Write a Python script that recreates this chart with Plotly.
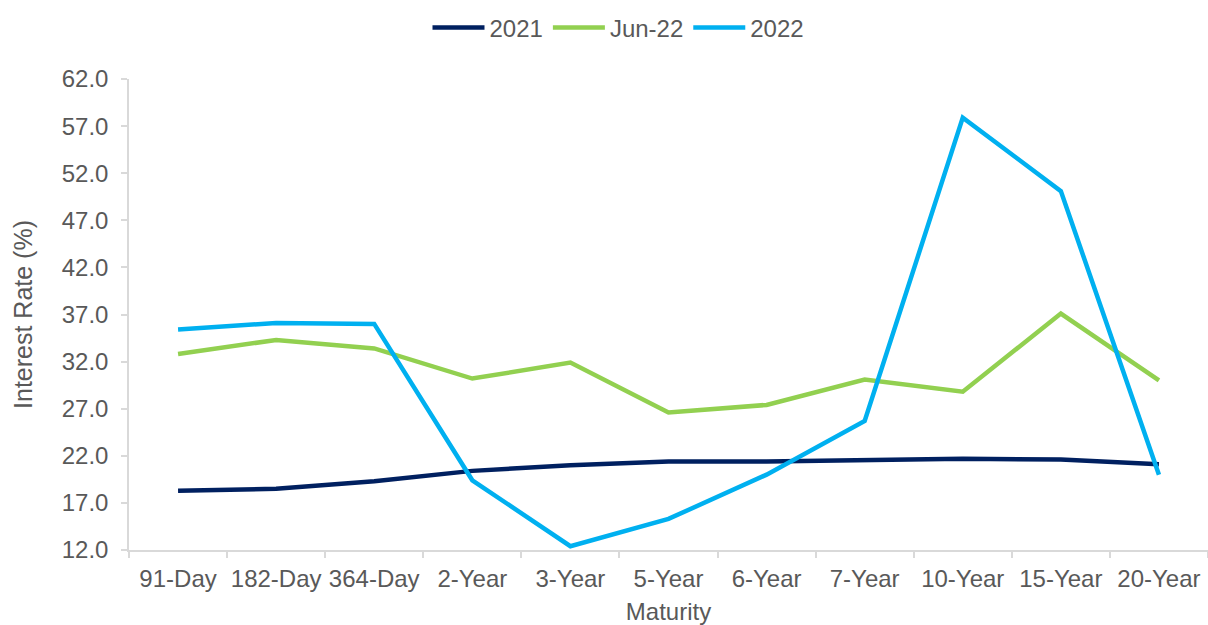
import plotly.graph_objects as go

maturities = ["91-Day", "182-Day", "364-Day", "2-Year", "3-Year", "5-Year",
              "6-Year", "7-Year", "10-Year", "15-Year", "20-Year"]
rates_2021 = [18.3, 18.5, 19.3, 20.4, 21.0, 21.4, 21.4, 21.5, 21.7, 21.6, 21.1]
rates_jun22 = [32.8, 34.3, 33.4, 30.2, 31.9, 26.6, 27.4, 30.1, 28.8, 37.1, 30.0]
rates_2022 = [35.4, 36.1, 36.0, 19.4, 12.4, 15.3, 20.0, 25.7, 57.9, 50.1, 20.0]
y_ticks = [12, 17, 22, 27, 32, 37, 42, 47, 52, 57, 62]

series = [
    ("2021", rates_2021, "#002060"),
    ("Jun-22", rates_jun22, "#92D050"),
    ("2022", rates_2022, "#00B0F0"),
]

fig = go.Figure()
for name, vals, color in series:
    fig.add_trace(go.Scatter(x=maturities, y=vals, name=name, mode="lines",
                             line=dict(color=color, width=4.5)))

font_family = "Liberation Sans, Arial, sans-serif"
grey = "#595959"
axis_grey = "#D9D9D9"
fs = 24

fig.update_layout(
    width=1208, height=625,
    margin=dict(l=129, r=0, t=79, b=75),
    paper_bgcolor="white", plot_bgcolor="white",
    font=dict(family=font_family, size=fs, color=grey),
    showlegend=True,
    legend=dict(orientation="h", x=0.512, xref="container", xanchor="center",
                y=1 - 28 / 625, yref="container", yanchor="middle",
                font=dict(size=fs, color=grey), itemwidth=52,
                traceorder="normal"),
    xaxis=dict(
        type="category", categoryorder="array", categoryarray=maturities,
        range=[-0.5, len(maturities) - 0.5], automargin=False, tickangle=0,
        showline=True, linecolor=axis_grey, linewidth=1.5,
        ticks="outside", tickson="boundaries", ticklen=6, tickcolor=axis_grey,
        tickwidth=1.5, showgrid=False, zeroline=False,
        tickfont=dict(size=fs, color=grey), ticklabelstandoff=6,
        title=dict(text="Maturity", font=dict(size=fs, color=grey), standoff=14),
    ),
    yaxis=dict(
        range=[12, 62], tickvals=y_ticks, tickformat=".1f", automargin=False,
        showline=True, linecolor=axis_grey, linewidth=1.5,
        ticks="outside", ticklen=6, tickcolor=axis_grey, tickwidth=1.5,
        showgrid=False, zeroline=False,
        tickfont=dict(size=fs, color=grey), ticklabelstandoff=8,
        title=dict(text="Interest Rate (%)", font=dict(size=25, color=grey), standoff=22),
    ),
)

fig.write_html("out.html")
